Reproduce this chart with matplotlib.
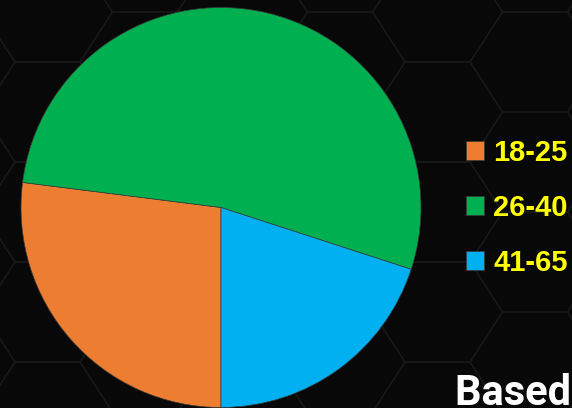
import numpy as np
import matplotlib as mlib
mlib.use('Agg')
import matplotlib.pyplot as plt
from matplotlib.collections import LineCollection

# chart data
age_groups = ['18-25', '26-40', '41-65']
shares = [27, 53, 20]
slice_colors = ['#ED7D31', '#00B050', '#00B0F0']
caption = 'Based on'

W, H = 572, 408
BG = '#080808'


def honeycomb_segments(a, h, x0, y0, width, height):
    # faint flat-top hexagon grid for the backdrop
    segs = []
    for row in range(-2, int(height / h) + 3):
        y = y0 + row * h
        shift = 1.5 * a * (row % 2)
        for k in range(-2, int(width / (3 * a)) + 3):
            xl = x0 + shift + 3 * a * k
            xr = xl + a
            segs.append([(xl, y), (xr, y)])
            segs.append([(xr, y), (xr + a / 2, y + h)])
            segs.append([(xr, y), (xr + a / 2, y - h)])
    return segs


fig = plt.figure(figsize=(W / 100, H / 100), dpi=100, facecolor=BG)

bg = fig.add_axes([0, 0, 1, 1])
bg.set_xlim(0, W)
bg.set_ylim(H, 0)
bg.set_facecolor(BG)
bg.axis('off')
bg.add_collection(LineCollection(honeycomb_segments(65, 50, 15, 62, W, H),
                                 colors='#191919', linewidths=1.2))

cx, cy, r = 221, 207.5, 200
ax = fig.add_axes([(cx - r) / W, (H - cy - r) / H, 2 * r / W, 2 * r / H])
ax.set_facecolor('none')
wedges, _ = ax.pie(shares, colors=slice_colors, startangle=270, counterclock=False,
                   radius=1, wedgeprops=dict(edgecolor='#3a3a3a', linewidth=0.5))
ax.set_xlim(-1, 1)
ax.set_ylim(-1, 1)
ax.set_aspect('equal')

leg = fig.legend(wedges, age_groups, loc='center left',
                 bbox_to_anchor=(466 / W, 1 - 208 / H),
                 frameon=False, prop=dict(family='Liberation Sans', weight='bold', size=21),
                 handlelength=0.62, handleheight=0.62, handletextpad=0.31,
                 labelspacing=0.93, borderpad=0, borderaxespad=0)
for t in leg.get_texts():
    t.set_color('#FFFF00')

fig.text(455 / W, 1 - 405 / H, caption, color='white', fontsize=30,
         family=['Roboto', 'DejaVu Sans'], weight='bold',
         ha='left', va='baseline')

fig.savefig('out.png', dpi=100, facecolor=BG)
